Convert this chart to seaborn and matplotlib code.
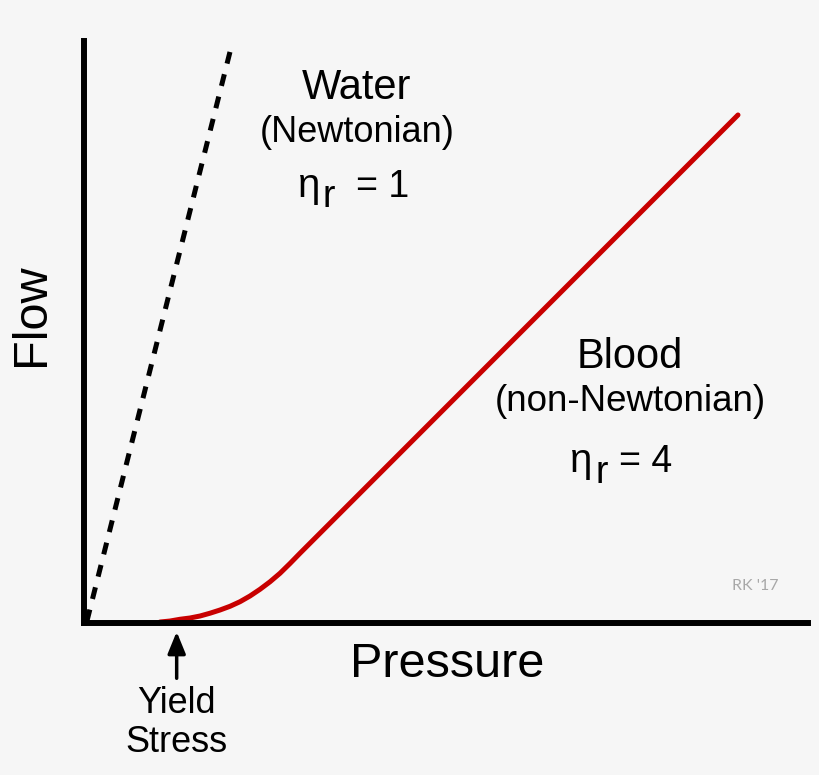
import numpy as np
import pandas as pd
import seaborn as sns
import matplotlib.pyplot as plt

# curve values (arbitrary units, 0-100 on both axes)
water_pressure = [0.4, 20.4]
water_flow = [0.3, 99.3]

blood_pressure = [10.50, 11.88, 13.26, 14.64, 16.02, 17.40, 18.78, 20.17,
                  21.55, 22.93, 24.31, 25.69, 27.07, 28.45, 29.83, 90.33]
blood_flow = [0.17, 0.34, 0.64, 0.86, 1.20, 1.68, 2.23, 2.87,
              3.66, 4.64, 5.79, 7.08, 8.54, 10.22, 11.98, 87.29]

yield_stress = 12.8

bg = '#f6f6f6'
sns.set_theme(style='white', rc={'figure.facecolor': bg, 'axes.facecolor': bg,
                                 'savefig.facecolor': bg})
plt.rcParams['font.family'] = ['Liberation Sans', 'DejaVu Sans']
plt.rcParams['text.color'] = 'black'
plt.rcParams['axes.labelcolor'] = 'black'

fig = plt.figure(figsize=(8.2, 7.75), dpi=100)
ax = fig.add_axes([84 / 820, 1 - 623 / 775, 724 / 820, 582 / 775])

# water: straight dashed line, blood: red curve with a yield stress
sns.lineplot(x=water_pressure, y=water_flow, ax=ax, color='black', lw=3.6,
             linestyle=(0, (2.4, 2.2)), clip_on=False)
sns.lineplot(x=blood_pressure, y=blood_flow, ax=ax, color='#c80000', lw=3.6,
             solid_capstyle='round', solid_joinstyle='round', clip_on=False)

ax.set_xlim(0, 100)
ax.set_ylim(0, 100)
ax.set_xticks([])
ax.set_yticks([])
sns.despine(ax=ax)
for side in ['left', 'bottom']:
    ax.spines[side].set_linewidth(4.3)
    ax.spines[side].set_color('black')
    ax.spines[side].set_capstyle('projecting')

ax.set_xlabel('Pressure', fontsize=35)
ax.set_ylabel('Flow', fontsize=35)
ax.xaxis.set_label_coords(0.501, -0.072)
ax.xaxis.label.set_va('center')
ax.yaxis.set_label_coords(-0.072, 0.529)
ax.yaxis.label.set_va('center')

# annotations
ax.text(37.7, 91.9, 'Water', fontsize=30, ha='center', va='center')
ax.text(37.7, 84.2, '(Newtonian)', fontsize=26, ha='center', va='center')
ax.text(32.6, 73.2, 'η', fontsize=29, ha='right', va='baseline')
ax.text(33.0, 71.4, 'r', fontsize=27, ha='left', va='baseline')
ax.text(37.6, 73.2, '= 1', fontsize=27, ha='left', va='baseline')

ax.text(75.4, 45.7, 'Blood', fontsize=30, ha='center', va='center')
ax.text(75.4, 38.0, '(non-Newtonian)', fontsize=26.5, ha='center', va='center')
ax.text(70.2, 25.9, 'η', fontsize=29, ha='right', va='baseline')
ax.text(70.6, 24.1, 'r', fontsize=27, ha='left', va='baseline')
ax.text(73.9, 25.9, '= 4', fontsize=27, ha='left', va='baseline')

ax.annotate('', xy=(yield_stress, -0.015), xytext=(yield_stress, -0.095),
            xycoords=('data', 'axes fraction'), textcoords=('data', 'axes fraction'),
            arrowprops=dict(arrowstyle='-|>,head_length=1.1,head_width=0.45',
                            color='black', lw=2.5, shrinkA=0, shrinkB=0))
ax.text(yield_stress, -0.139, 'Yield', fontsize=26, ha='center',
        va='center', transform=ax.get_xaxis_transform())
ax.text(yield_stress, -0.205, 'Stress', fontsize=26, ha='center',
        va='center', transform=ax.get_xaxis_transform())

ax.text(0.959, 0.063, "RK '17", fontsize=11.5, color='#a8a8a8', ha='right',
        va='center', transform=ax.transAxes, family=['Lato', 'DejaVu Sans'])

fig.savefig('out.png', dpi=100)
